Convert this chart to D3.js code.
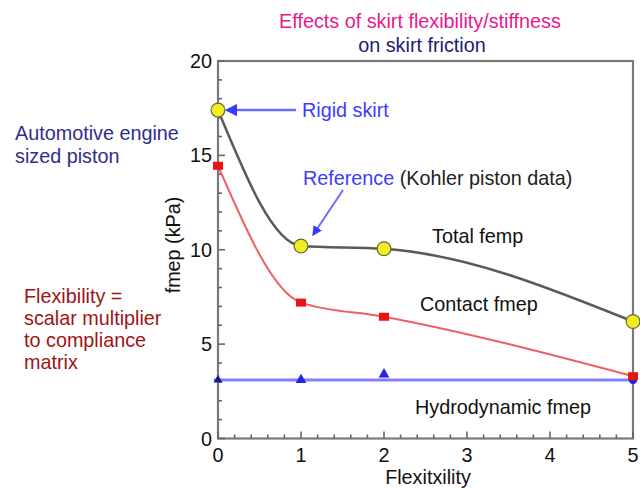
<!DOCTYPE html>
<html>
<head>
<meta charset="utf-8">
<script src="https://cdn.jsdelivr.net/npm/d3@7"></script>
<style>
  html, body { margin: 0; padding: 0; background: #fff; }
  svg { display: block; font-family: "Liberation Sans", Arial, sans-serif; }
</style>
</head>
<body>
<svg id="chart" width="640" height="488"></svg>
<script>
// ---- data ----
const flexibility = [0, 1, 2, 5];
const totalFmep = [17.4, 10.2, 10.05, 6.2];
const contactFmep = [14.45, 7.2, 6.45, 3.3];
const hydroFmep = [3.1, 3.1, 3.4, 3.1];
const hydroFit = [3.1, 3.1];
const hydroFitX = [-0.05, 5.05];
const xTicks = [0, 1, 2, 3, 4, 5];
const yTicks = [0, 5, 10, 15, 20];

const FS = 19.8;
const svg = d3.select("#chart");
const x = d3.scaleLinear().domain([0, 5]).range([218, 633]);
const y = d3.scaleLinear().domain([0, 20]).range([438.5, 61]);

// frame
svg.append("rect")
  .attr("x", x(0)).attr("y", y(20))
  .attr("width", x(5) - x(0)).attr("height", y(0) - y(20))
  .attr("fill", "none").attr("stroke", "#7a7a7a").attr("stroke-width", 2.2);

// minor ticks
const xMinor = d3.range(0, 5.001, 0.2);
svg.append("g").selectAll("line").data(xMinor).join("line")
  .attr("x1", d => x(d)).attr("x2", d => x(d))
  .attr("y1", y(0)).attr("y2", d => y(0) - (Math.abs(d - Math.round(d)) < 1e-6 ? 7 : 4))
  .attr("stroke", "#666").attr("stroke-width", 1.6);
const yMinor = d3.range(0, 20.001, 1);
svg.append("g").selectAll("line").data(yMinor).join("line")
  .attr("y1", d => y(d)).attr("y2", d => y(d))
  .attr("x1", x(0)).attr("x2", d => x(0) + (d % 5 === 0 ? 7 : 4))
  .attr("stroke", "#666").attr("stroke-width", 1.6);

// tick labels
svg.append("g").selectAll("text").data(yTicks).join("text")
  .attr("x", 212).attr("y", d => y(d) + 7)
  .attr("text-anchor", "end").attr("font-size", FS).attr("fill", "#111")
  .text(d => d);
svg.append("g").selectAll("text").data(xTicks).join("text")
  .attr("x", d => x(d)).attr("y", 462)
  .attr("text-anchor", "middle").attr("font-size", FS).attr("fill", "#111")
  .text(d => d);

// axis titles
svg.append("text").attr("transform", "translate(180,245) rotate(-90)")
  .attr("text-anchor", "middle").attr("font-size", FS).attr("fill", "#111")
  .text("fmep (kPa)");
svg.append("text").attr("x", 428).attr("y", 484)
  .attr("text-anchor", "middle").attr("font-size", FS).attr("fill", "#111")
  .text("Flexitxility");

// chart title
svg.append("text").attr("x", 420).attr("y", 28).attr("text-anchor", "middle")
  .attr("font-size", FS).attr("fill", "#e8198c").text("Effects of skirt flexibility/stiffness");
svg.append("text").attr("x", 422).attr("y", 52).attr("text-anchor", "middle")
  .attr("font-size", FS).attr("fill", "#1c1c70").text("on skirt friction");

// side notes
const note1 = ["Automotive engine", "sized piston"];
svg.append("g").selectAll("text").data(note1).join("text")
  .attr("x", 15).attr("y", (d, i) => 140 + i * 23)
  .attr("font-size", FS).attr("fill", "#2e2e8c").text(d => d);
const note2 = ["Flexibility =", "scalar multiplier", "to compliance", "matrix"];
svg.append("g").selectAll("text").data(note2).join("text")
  .attr("x", 24).attr("y", (d, i) => 303 + i * 22)
  .attr("font-size", FS).attr("fill", "#a01414").text(d => d);

// lines
const pts = ys => flexibility.map((f, i) => [f, ys[i]]);
const line = d3.line().x(d => x(d[0])).y(d => y(d[1])).curve(d3.curveMonotoneX);
svg.append("path").attr("d", d3.line().x(d => x(d[0])).y(d => y(d[1]))(hydroFitX.map((f, i) => [f, hydroFit[i]])))
  .attr("fill", "none").attr("stroke", "#6a6aff").attr("stroke-width", 3).attr("opacity", 0.85);
svg.append("path").attr("d", line(pts(contactFmep)))
  .attr("fill", "none").attr("stroke", "#f06060").attr("stroke-width", 2);
svg.append("path").attr("d", line(pts(totalFmep)))
  .attr("fill", "none").attr("stroke", "#5a5a5a").attr("stroke-width", 2.5);

// markers
svg.append("g").selectAll("path").data(pts(hydroFmep)).join("path")
  .attr("transform", d => `translate(${x(d[0])},${y(d[1])})`)
  .attr("d", (d, i) => i === 3 ? d3.symbol(d3.symbolCircle, 50)() : d3.symbol(d3.symbolTriangle, i === 0 ? 35 : 50)())
  .attr("fill", (d, i) => i === 0 ? "#1a1a90" : "#2222e8");
svg.append("g").selectAll("rect").data(pts(contactFmep)).join("rect")
  .attr("x", d => x(d[0]) - 5).attr("y", d => y(d[1]) - 4)
  .attr("width", 10).attr("height", 8).attr("fill", "#e81414");
svg.append("g").selectAll("path").data(pts(totalFmep)).join("path")
  .attr("transform", d => `translate(${x(d[0])},${y(d[1])})`)
  .attr("d", d3.symbol(d3.symbolCircle, 150)())
  .attr("fill", "#f0ee22").attr("stroke", "#6a6a30").attr("stroke-width", 1.2);

// annotations
svg.append("defs").append("marker").attr("id", "ah")
  .attr("viewBox", "0 0 10 10").attr("refX", 5).attr("refY", 5)
  .attr("markerWidth", 5).attr("markerHeight", 5).attr("orient", "auto")
  .append("path").attr("d", "M0,0 L10,5 L0,10 Z").attr("fill", "#3a3aff");
svg.append("line").attr("x1", 296).attr("y1", y(totalFmep[0])).attr("x2", 231).attr("y2", y(totalFmep[0]))
  .attr("stroke", "#6b6bff").attr("stroke-width", 2.5).attr("marker-end", "url(#ah)");
svg.append("text").attr("x", 302).attr("y", 117).attr("font-size", FS)
  .attr("fill", "#3c3cff").text("Rigid skirt");
svg.append("line").attr("x1", 343).attr("y1", 190).attr("x2", 315).attr("y2", 232)
  .attr("stroke", "#6b6bff").attr("stroke-width", 2).attr("marker-end", "url(#ah)");
const ref = svg.append("text").attr("x", 303).attr("y", 185).attr("font-size", FS);
ref.append("tspan").attr("fill", "#3c3cff").text("Reference");
ref.append("tspan").attr("fill", "#222").text(" (Kohler piston data)");

svg.append("text").attr("x", 432).attr("y", 243).attr("font-size", FS).attr("fill", "#111").text("Total femp");
svg.append("text").attr("x", 420).attr("y", 311).attr("font-size", FS).attr("fill", "#111").text("Contact fmep");
svg.append("text").attr("x", 415).attr("y", 414).attr("font-size", FS).attr("fill", "#111").text("Hydrodynamic fmep");
</script>
</body>
</html>
